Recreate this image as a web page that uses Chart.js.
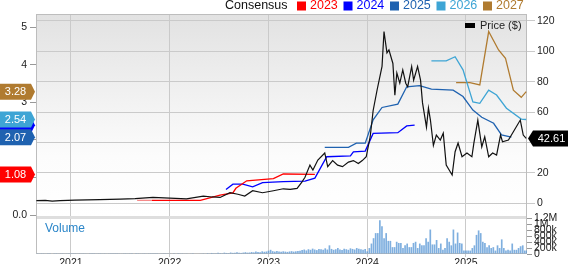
<!DOCTYPE html>
<html>
<head>
<meta charset="utf-8">
<script src="https://cdn.jsdelivr.net/npm/chart.js@4.4.0/dist/chart.umd.min.js"></script>
<style>
	html, body { margin: 0; padding: 0; background: #fff; }
	canvas { display: block; }
</style>
</head>
<body>
<canvas id="chartConsensus" width="568" height="264"></canvas>
<script>
const X_MIN = 2020.646;
const X_MAX = 2025.618;
const YEAR_TICKS = [2021, 2022, 2023, 2024, 2025];
const PRICE_TICKS = [0, 20, 40, 60, 80, 100, 120];
const EPS_TICKS = [0, 1, 2, 3, 4, 5];
const VOL_TICKS = [0, 200, 400, 600, 800, 1000, 1200];

// price, $ (right axis)
const PRICE_DATES = [2020.65, 2020.74, 2020.81, 2020.89, 2021.04, 2021.29, 2021.50, 2021.65, 2021.83, 2022.00,
	2022.17, 2022.34, 2022.43, 2022.51, 2022.61, 2022.69, 2022.76, 2022.84, 2022.94, 2023.05,
	2023.15, 2023.22, 2023.29, 2023.34, 2023.37, 2023.42, 2023.45, 2023.50, 2023.57, 2023.60,
	2023.65, 2023.70, 2023.75, 2023.81, 2023.86, 2023.91, 2023.95, 2023.99, 2024.03, 2024.06,
	2024.10, 2024.15, 2024.17, 2024.20, 2024.22, 2024.26, 2024.28, 2024.30, 2024.33, 2024.36,
	2024.39, 2024.41, 2024.45, 2024.47, 2024.51, 2024.54, 2024.56, 2024.60, 2024.62, 2024.64,
	2024.67, 2024.70, 2024.74, 2024.77, 2024.80, 2024.86, 2024.89, 2024.92, 2024.96, 2025.01,
	2025.06, 2025.08, 2025.12, 2025.16, 2025.19, 2025.23, 2025.27, 2025.31, 2025.35, 2025.37,
	2025.43, 2025.48, 2025.55, 2025.58, 2025.61];
const PRICE_VALUES = [1.6, 1.7, 1.2, 1.6, 1.9, 2.3, 2.6, 2.9, 3.7, 3.2,
	2.8, 4.6, 4.0, 3.7, 6.8, 5.8, 4.6, 8.1, 6.8, 8.1,
	9.4, 9.0, 9.7, 14, 17, 25, 21.8, 28.3, 33, 24,
	28, 25, 24, 27, 28, 26, 28, 30.5, 43.7, 61,
	74.5, 90, 113, 99, 101, 92, 71, 85.7, 79, 87.7,
	79, 76.7, 90, 81, 90, 81, 66, 50, 62.6, 54.7,
	38, 44.8, 41.5, 46, 25, 18.5, 33.8, 39.5, 30.5, 33,
	30.5, 39.5, 54.7, 37, 43.7, 30.5, 33, 31.6, 44.8, 40.4,
	41.5, 47, 54.7, 44.8, 42.61];

// consensus EPS estimates (left axis)
const EST_2023_DATES = [2021.67, 2021.82, 2022.31, 2022.51, 2022.64, 2022.67, 2022.78, 2023.05, 2023.15, 2023.47];
const EST_2023_VALUES = [0.39, 0.39, 0.39, 0.53, 0.59, 0.71, 0.91, 0.97, 1.09, 1.08];
const EST_2024_DATES = [2022.57, 2022.64, 2022.74, 2022.84, 2022.94, 2023.15, 2023.37, 2023.47, 2023.59, 2023.83, 2023.86, 2023.98, 2024.06, 2024.31, 2024.40, 2024.48];
const EST_2024_VALUES = [0.68, 0.82, 0.82, 0.75, 0.86, 0.89, 0.90, 0.98, 1.55, 1.57, 1.68, 1.70, 2.17, 2.19, 2.37, 2.39];
const EST_2025_DATES = [2023.57, 2023.81, 2023.89, 2023.98, 2024.06, 2024.15, 2024.31, 2024.40, 2024.53, 2024.65, 2024.87, 2024.97, 2025.07, 2025.16, 2025.28, 2025.36, 2025.46];
const EST_2025_VALUES = [1.80, 1.80, 1.91, 1.91, 2.53, 2.86, 2.95, 3.41, 3.44, 3.35, 3.32, 3.15, 2.79, 2.60, 2.44, 2.13, 2.07];
const EST_2026_DATES = [2024.65, 2024.80, 2024.89, 2024.97, 2025.07, 2025.14, 2025.23, 2025.31, 2025.41, 2025.56, 2025.61];
const EST_2026_VALUES = [4.10, 4.10, 4.21, 3.86, 3.01, 2.97, 3.32, 3.19, 2.84, 2.55, 2.54];
const EST_2027_DATES = [2024.90, 2025.04, 2025.14, 2025.23, 2025.33, 2025.40, 2025.48, 2025.56, 2025.61];
const EST_2027_VALUES = [3.52, 3.52, 3.46, 4.88, 4.39, 4.17, 3.32, 3.13, 3.28];

// volume in thousands, one bar per period starting at VOL_START
const VOL_START = 2020.66;
const VOL_STEP = 1 / 47;
const VOLUME = [
	10, 12, 8, 10, 14, 9, 11, 13, 10, 8, 12, 10, 9, 14, 11, 10, 12, 8, 9, 13,
	10, 11, 9, 12, 15, 10, 8, 11, 13, 10, 9, 12, 10, 14, 11, 9, 10, 12, 8, 11,
	13, 10, 9, 12, 10, 11, 14, 9, 10, 12, 11, 9, 13, 10, 12, 8, 10, 11, 14, 12,
	10, 9, 12, 11, 13, 10, 15, 12, 11, 10, 14, 12, 16, 13, 11, 15, 14, 18,
	20, 25, 18, 30, 22, 35, 28, 24, 40, 30, 26, 45, 35, 30, 50, 38, 42, 55, 40, 36, 48, 60, 45,
	50, 65, 55, 80, 70, 60, 90, 75, 85, 110, 140, 95, 80, 100, 85, 75, 90, 80, 70, 85, 95, 80, 90, 100, 110,
	130, 150, 120, 160, 140, 180, 150, 130, 170, 160, 140, 190, 150, 290, 170, 140, 160, 200, 150, 130,
	180, 160, 140, 190, 170, 150, 200, 180, 160, 140, 170, 90, 200,
	350, 530, 700, 700, 1130, 930, 530, 700, 440, 440, 230, 230, 410, 370, 370, 200, 290, 350, 230, 230,
	370, 410, 200, 350, 290, 290, 530, 410, 820, 320, 320, 470, 200, 350, 140, 200, 530, 410, 290, 820,
	350, 720, 370, 350, 115, 115, 115, 115, 200, 290, 640, 790, 700, 410, 370, 230, 290, 200, 230, 115,
	290, 200, 490, 200, 115, 140, 115, 350, 140, 140, 200, 260, 290, 115, 115,
];

const LAST_PRICE = 42.61;
const FONT = 'Liberation Sans, Arial, sans-serif';
const TEXT_COLOR = '#222';
const GRID_COLOR = '#cacaca';

const SERIES = [
	{ label: '2023', color: '#ff0000', dates: EST_2023_DATES, values: EST_2023_VALUES, badgeText: true },
	{ label: '2024', color: '#0000ff', dates: EST_2024_DATES, values: EST_2024_VALUES, badgeText: false },
	{ label: '2025', color: '#1f62b0', dates: EST_2025_DATES, values: EST_2025_VALUES, badgeText: true },
	{ label: '2026', color: '#3ea5d5', dates: EST_2026_DATES, values: EST_2026_VALUES, badgeText: true },
	{ label: '2027', color: '#b07b30', dates: EST_2027_DATES, values: EST_2027_VALUES, badgeText: true },
];

function toPoints(dates, values) {
	return dates.map((d, i) => ({ x: d, y: values[i] }));
}

function fixedTicks(list) {
	return scale => {
		scale.ticks = list.map(v => ({ value: v }));
	};
}

function drawBadge(ctx, xBody, xTip, w, y, color, text, pointLeft) {
	const h = 16;
	ctx.fillStyle = color;
	ctx.beginPath();
	if (pointLeft) {
		ctx.moveTo(xTip, y);
		ctx.lineTo(xBody, y - h / 2);
		ctx.lineTo(xBody + w, y - h / 2);
		ctx.lineTo(xBody + w, y + h / 2);
		ctx.lineTo(xBody, y + h / 2);
	} else {
		ctx.moveTo(xBody, y - h / 2);
		ctx.lineTo(xBody + w, y - h / 2);
		ctx.lineTo(xTip, y);
		ctx.lineTo(xBody + w, y + h / 2);
		ctx.lineTo(xBody, y + h / 2);
	}
	ctx.closePath();
	ctx.fill();
	if (!text) return;
	ctx.fillStyle = '#fff';
	ctx.font = '11px ' + FONT;
	ctx.textAlign = 'center';
	ctx.textBaseline = 'middle';
	ctx.fillText(text, xBody + w / 2 + (pointLeft ? 1 : 0), y + 0.5);
}

const panelsPlugin = {
	id: 'panels',
	beforeDraw(chart) {
		const { ctx, chartArea: a, scales } = chart;
		const bottom = scales.yP.bottom;
		const g = ctx.createLinearGradient(0, a.top, 0, bottom);
		g.addColorStop(0, '#e2e2e2');
		g.addColorStop(0.7, '#fcfcfc');
		g.addColorStop(1, '#ffffff');
		ctx.save();
		ctx.fillStyle = g;
		ctx.fillRect(a.left, a.top, a.right - a.left, bottom - a.top);
		ctx.restore();
	},
	beforeDatasetsDraw(chart) {
		const { ctx, chartArea: a, scales } = chart;
		ctx.save();
		ctx.fillStyle = '#dedede';
		ctx.fillRect(a.left, scales.yP.bottom - 1, a.right - a.left, 3);
		ctx.strokeStyle = '#bdbdbd';
		ctx.lineWidth = 1;
		ctx.strokeRect(a.left + 0.5, a.top + 0.5, a.right - a.left - 1, a.bottom - a.top - 1);
		ctx.restore();
	},
	afterDraw(chart) {
		const { ctx, scales } = chart;
		ctx.save();

		// consensus legend
		ctx.font = '12.5px ' + FONT;
		ctx.textBaseline = 'middle';
		ctx.textAlign = 'left';
		ctx.fillStyle = '#111';
		ctx.fillText('Consensus', 225, 6);
		SERIES.forEach((s, i) => {
			const x = 297 + i * 46.5;
			ctx.fillStyle = s.color;
			ctx.fillRect(x, 1.5, 9, 9);
			ctx.fillText(s.label, x + 13, 6);
		});

		// price legend
		ctx.fillStyle = '#000';
		ctx.fillRect(465, 23, 10, 5);
		ctx.fillStyle = TEXT_COLOR;
		ctx.font = '11px ' + FONT;
		ctx.fillText('Price ($)', 480, 26);

		// volume label
		ctx.fillStyle = '#2b86c9';
		ctx.font = '12px ' + FONT;
		ctx.fillText('Volume', 45, 229);

		// last-value badges on the left axis
		const order = [1, 0, 2, 3, 4];
		order.forEach(i => {
			const s = SERIES[i];
			const v = s.values[s.values.length - 1];
			drawBadge(ctx, 0, 35, 31, scales.yE.getPixelForValue(v), s.color, s.badgeText ? v.toFixed(2) : '', false);
		});

		// last price badge on the right axis
		drawBadge(ctx, 533, 528, 35, scales.yP.getPixelForValue(LAST_PRICE), '#000', LAST_PRICE.toFixed(2), true);
		ctx.restore();
	},
};

const tickFont = { family: FONT, size: 10.5 };

const estimateDatasets = SERIES.map(s => ({
	type: 'line',
	label: s.label,
	data: toPoints(s.dates, s.values),
	yAxisID: 'yE',
	borderColor: s.color,
	borderWidth: 1.3,
	pointRadius: 0,
	tension: 0,
	order: 1,
	segment: s.label === '2023' ? {
		borderColor: c => (c.p1.parsed.x <= 2021.83 ? '#f58a8a' : s.color),
	} : undefined,
}));

const ctx = document.getElementById('chartConsensus').getContext('2d');
new Chart(ctx, {
	type: 'bar',
	data: {
		datasets: [
			{
				type: 'line',
				label: 'Price ($)',
				data: toPoints(PRICE_DATES, PRICE_VALUES),
				yAxisID: 'yP',
				borderColor: '#111',
				borderWidth: 1.2,
				pointRadius: 0,
				tension: 0,
				order: 0,
			},
			...estimateDatasets,
			{
				type: 'bar',
				label: 'Volume',
				data: VOLUME.map((v, i) => ({ x: VOL_START + i * VOL_STEP, y: v })),
				yAxisID: 'yV',
				backgroundColor: 'rgba(84, 148, 212, 0.75)',
				barPercentage: 1,
				categoryPercentage: 0.8,
				order: 2,
			},
		],
	},
	options: {
		responsive: false,
		animation: false,
		events: [],
		layout: { padding: { top: 14, left: 0, right: 0, bottom: 0 } },
		plugins: {
			legend: { display: false },
			tooltip: { enabled: false },
			title: { display: false },
		},
		scales: {
			x: {
				type: 'linear',
				min: X_MIN,
				max: X_MAX,
				offset: false,
				afterBuildTicks: fixedTicks(YEAR_TICKS),
				afterFit: s => { s.height = 10; },
				grid: { color: GRID_COLOR, tickLength: 3, offset: false },
				border: { display: false },
				ticks: { padding: 0, maxRotation: 0, font: tickFont, color: TEXT_COLOR, callback: v => String(v) },
			},
			yE: {
				type: 'linear',
				position: 'left',
				min: -1.037,
				max: 5.346,
				afterBuildTicks: fixedTicks(EPS_TICKS),
				afterFit: s => { s.width = 36; },
				grid: { drawOnChartArea: false, tickLength: 6, color: '#999' },
				border: { display: false },
				ticks: { padding: 3, font: tickFont, color: TEXT_COLOR, callback: v => (v === 0 ? '0.0' : String(v)) },
			},
			yP: {
				type: 'linear',
				position: 'right',
				stack: 'panels',
				stackWeight: 203,
				min: -9.2,
				max: 124.6,
				afterBuildTicks: fixedTicks(PRICE_TICKS),
				afterFit: s => { s.width = 41; },
				grid: { color: GRID_COLOR, tickLength: 8 },
				border: { display: false },
				ticks: { padding: 2, font: tickFont, color: TEXT_COLOR },
			},
			yV: {
				type: 'linear',
				position: 'right',
				stack: 'panels',
				stackWeight: 37,
				min: 0,
				max: 1240,
				afterBuildTicks: fixedTicks(VOL_TICKS),
				afterFit: s => { s.width = 41; },
				grid: { drawOnChartArea: false, tickLength: 5, color: '#999' },
				border: { display: false },
				ticks: {
					autoSkip: false,
					padding: 2,
					font: tickFont,
					color: TEXT_COLOR,
					callback: v => (v === 0 ? '0' : v >= 1000 ? (v / 1000) + 'M' : v + 'k'),
				},
			},
		},
	},
	plugins: [panelsPlugin],
});
</script>
</body>
</html>
